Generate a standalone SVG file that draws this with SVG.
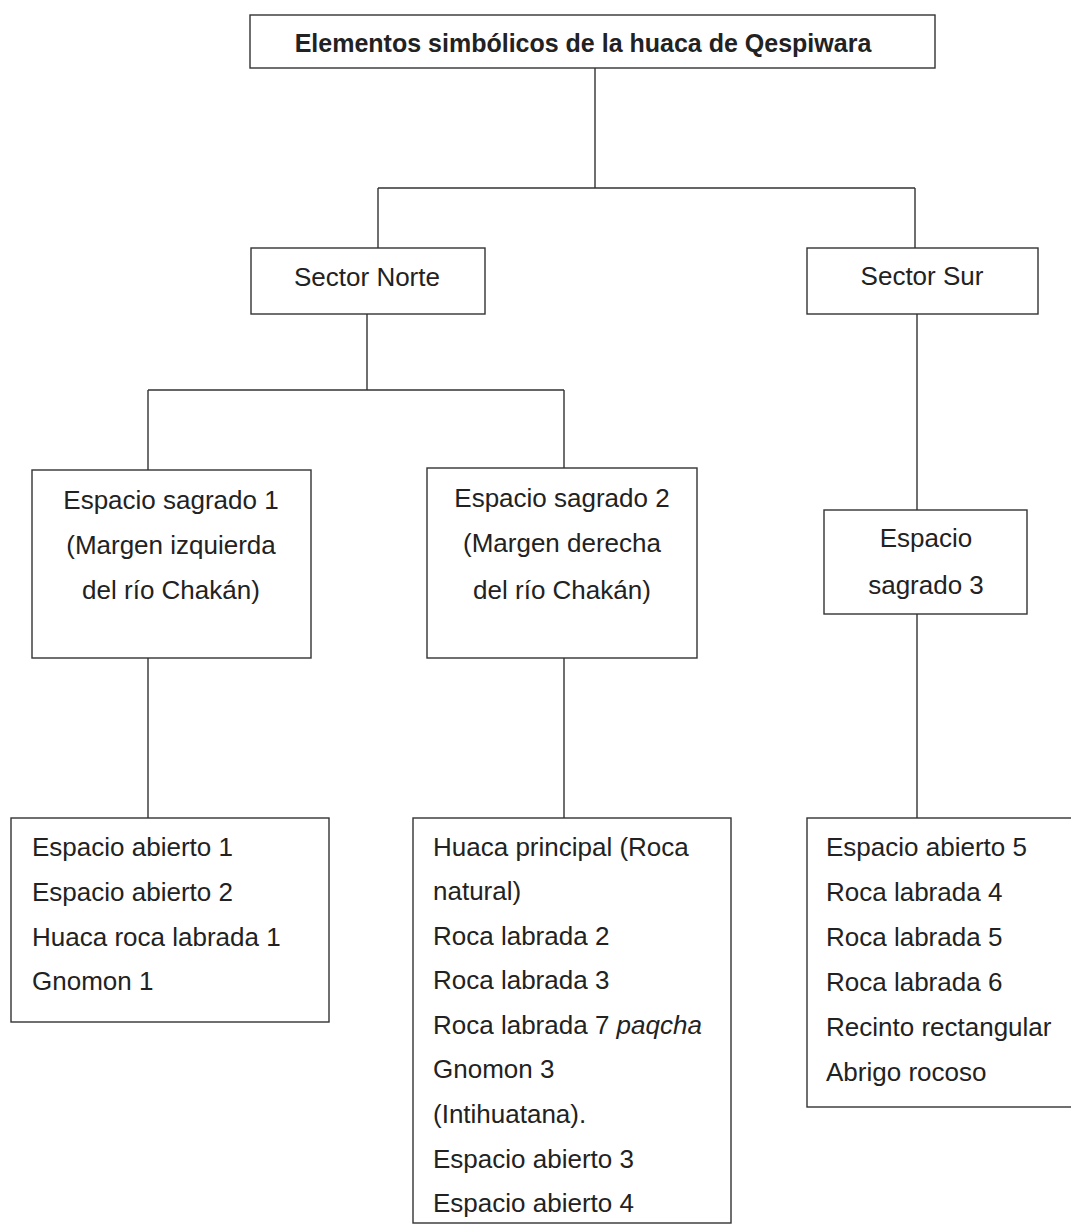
<svg xmlns="http://www.w3.org/2000/svg" width="1071" height="1224" viewBox="0 0 1071 1224">
<style>
.box{fill:#fff;stroke:#333;stroke-width:1.4}
.ln{stroke:#333;stroke-width:1.4;fill:none}
text{font-family:"Liberation Sans",Arial,sans-serif;font-size:26px;fill:#222}
.c{text-anchor:middle}
.b{font-weight:bold;font-size:25px}
</style>
<rect width="1071" height="1224" fill="#fff"/>
<g id="connectors">
<path class="ln" d="M595 68V188M378 188H915M378 188V248M915 188V248"/>
<path class="ln" d="M367 314V390M148 390H564M148 390V470M564 390V468"/>
<path class="ln" d="M148 658V818M564 658V818"/>
<path class="ln" d="M917 314V510M917 614V818"/>
</g>
<g id="title"><rect class="box" x="250" y="15" width="685" height="53"/><text class="c b" x="583" y="52">Elementos simbólicos de la huaca de Qespiwara</text></g>
<g id="sector-norte"><rect class="box" x="251" y="248" width="234" height="66"/><text class="c" x="367" y="286">Sector Norte</text></g>
<g id="sector-sur"><rect class="box" x="807" y="248" width="231" height="66"/><text class="c" x="922" y="285">Sector Sur</text></g>
<g id="espacio1"><rect class="box" x="32" y="470" width="279" height="188"/>
<text class="c" x="171" y="509">Espacio sagrado 1</text><text class="c" x="171" y="554">(Margen izquierda</text><text class="c" x="171" y="599">del río Chakán)</text></g>
<g id="espacio2"><rect class="box" x="427" y="468" width="270" height="190"/>
<text class="c" x="562" y="507">Espacio sagrado 2</text><text class="c" x="562" y="552">(Margen derecha</text><text class="c" x="562" y="599">del río Chakán)</text></g>
<g id="espacio3"><rect class="box" x="824" y="510" width="203" height="104"/>
<text class="c" x="926" y="547">Espacio</text><text class="c" x="926" y="594">sagrado 3</text></g>
<g id="lista1"><rect class="box" x="11" y="818" width="318" height="204"/>
<text x="32" y="856">Espacio abierto 1</text><text x="32" y="901">Espacio abierto 2</text><text x="32" y="946">Huaca roca labrada 1</text><text x="32" y="990">Gnomon 1</text></g>
<g id="lista2"><rect class="box" x="413" y="818" width="318" height="405"/>
<text x="433" y="856">Huaca principal (Roca</text><text x="433" y="900">natural)</text><text x="433" y="945">Roca labrada 2</text><text x="433" y="989">Roca labrada 3</text><text x="433" y="1034">Roca labrada 7 <tspan font-style="italic">paqcha</tspan></text><text x="433" y="1078">Gnomon 3</text><text x="433" y="1123">(Intihuatana).</text><text x="433" y="1168">Espacio abierto 3</text><text x="433" y="1212">Espacio abierto 4</text></g>
<g id="lista3"><rect class="box" x="807" y="818" width="270" height="289"/>
<text x="826" y="856">Espacio abierto 5</text><text x="826" y="901">Roca labrada 4</text><text x="826" y="946">Roca labrada 5</text><text x="826" y="991">Roca labrada 6</text><text x="826" y="1036">Recinto rectangular</text><text x="826" y="1081">Abrigo rocoso</text></g>
</svg>
